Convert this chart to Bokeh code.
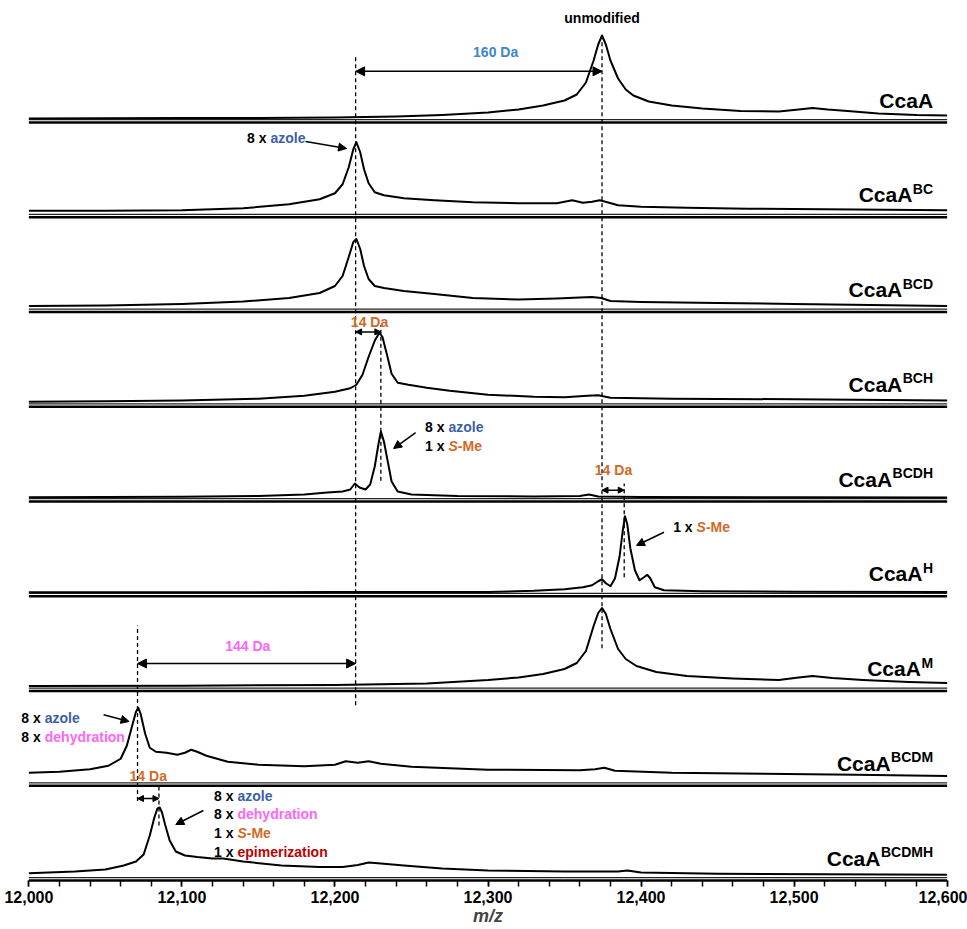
from bokeh.plotting import figure
from bokeh.models import (Range1d, Arrow, NormalHead, Label,
                          SingleIntervalTicker, NumeralTickFormatter)
from bokeh.embed import file_html
from bokeh.resources import INLINE

# ---------------- data ----------------
names = ["CcaA"] * 9
sups = ["", "BC", "BCD", "BCH", "BCDH", "H", "M", "BCDM", "BCDMH"]

mz_A = [12000, 12050, 12100, 12150, 12200, 12240, 12270, 12300, 12320, 12336, 12350, 12358, 12364,
        12369, 12372, 12374.5, 12377, 12380, 12385, 12390, 12395, 12405, 12420, 12440, 12465, 12490,
        12503, 12512, 12522, 12535, 12555, 12580, 12600]
int_A = [4, 4.2, 4.5, 4.5, 5, 6, 7.5, 10, 13, 17, 22, 28, 40, 62, 78, 87, 78, 62, 44, 33, 27, 21, 17,
         14, 11.5, 11, 13, 14.5, 13, 11.5, 9, 7.5, 7]

mz_BC = [12000, 12050, 12100, 12140, 12170, 12190, 12200, 12205, 12209, 12212, 12214, 12216.5, 12219,
         12222, 12226, 12232, 12245, 12265, 12290, 12320, 12345, 12355, 12362, 12368, 12373, 12378,
         12385, 12400, 12430, 12470, 12520, 12560, 12600]
int_BC = [6.5, 6.5, 7, 9, 13, 18, 24, 33, 50, 68, 75, 65, 48, 34, 25, 22, 19, 17, 15, 14, 14, 17,
          14.5, 15.5, 17, 15, 12, 10.5, 9.5, 8.5, 8, 7.5, 7]

mz_BCD = [12000, 12050, 12100, 12140, 12170, 12190, 12200, 12205, 12209, 12212, 12214, 12216.5, 12219,
          12222, 12226, 12232, 12245, 12265, 12290, 12320, 12345, 12360, 12368, 12374, 12380, 12400,
          12450, 12500, 12550, 12600]
int_BCD = [6, 6.5, 8, 10.5, 14, 19, 26, 36, 55, 70, 73, 63, 46, 33, 26, 24, 21, 18, 14, 12.5, 13.5,
           14.5, 15, 14, 11, 10, 9, 8, 7, 6]

mz_BCH = [12000, 12050, 12100, 12150, 12180, 12200, 12210, 12214, 12218, 12222, 12226, 12229, 12231,
          12234, 12237, 12241, 12248, 12260, 12275, 12300, 12330, 12350, 12365, 12372, 12380, 12420,
          12500, 12600]
int_BCH = [5, 5.5, 6.3, 8, 11, 15, 18.5, 22, 32, 50, 66, 74, 70, 52, 33, 24, 22, 19, 16, 12, 10, 9.5,
           11, 11.5, 9, 8, 7.5, 6.3]

mz_BCDH = [12000, 12050, 12100, 12150, 12180, 12195, 12205, 12210, 12213, 12216, 12220, 12223, 12226,
           12228.5, 12230, 12232, 12234.5, 12237, 12241, 12250, 12280, 12330, 12360, 12366, 12372,
           12400, 12500, 12600]
int_BCDH = [4.2, 4.5, 4.7, 5.5, 7, 9, 10, 12, 18, 14, 12, 17, 35, 58, 70, 60, 40, 20, 10, 7, 5.5, 5,
            5.5, 7, 5, 4.5, 4.3, 4]

mz_H = [12000, 12100, 12200, 12300, 12330, 12350, 12362, 12368, 12372, 12374.5, 12377, 12380, 12383,
        12386, 12388, 12389.5, 12391, 12393, 12396, 12399, 12402, 12404, 12406, 12409, 12415, 12440,
        12500, 12600]
int_H = [4, 4, 4.2, 4.3, 5.5, 7, 9, 11, 15, 17, 13, 10, 18, 40, 65, 80, 72, 48, 26, 16, 19, 21.5, 18,
         9, 6, 5, 4.5, 4.3]

mz_M = [12000, 12100, 12200, 12260, 12300, 12320, 12336, 12350, 12358, 12364, 12369, 12372, 12374.5,
        12377, 12380, 12385, 12390, 12397, 12410, 12430, 12460, 12490, 12503, 12512, 12525, 12545,
        12575, 12600]
int_M = [5, 5.3, 6, 7.5, 11, 13.5, 17, 22, 28, 40, 65, 78, 83, 77, 62, 42, 32, 25, 19, 15, 12.5, 11,
         13.5, 15, 13, 11, 9, 8]

mz_BCDM = [12000, 12020, 12040, 12052, 12060, 12064, 12067.5, 12070, 12071.5, 12073, 12076, 12079,
           12083, 12090, 12097, 12102, 12106, 12110, 12116, 12130, 12150, 12180, 12200, 12207, 12215,
           12222, 12230, 12250, 12300, 12360, 12370, 12376, 12383, 12420, 12480, 12540, 12600]
int_BCDM = [13, 14, 16.5, 20, 27, 40, 60, 74, 78, 72, 52, 38, 34, 33, 31, 33, 36, 34, 30, 24, 21,
            19.5, 21, 24.5, 23, 24.5, 22, 19, 16, 15.5, 16.5, 18, 15, 13, 12, 11, 9.7]

mz_BCDMH = [12000, 12030, 12050, 12062, 12070, 12075, 12079, 12082, 12084, 12085.5, 12087, 12089,
            12092, 12096, 12102, 12110, 12120, 12127, 12140, 12165, 12190, 12205, 12215, 12222, 12230,
            12245, 12270, 12300, 12350, 12385, 12391, 12400, 12450, 12520, 12600]
int_BCDMH = [7.3, 9, 11, 15, 19, 26, 45, 63, 72, 73, 68, 56, 40, 29, 25, 23.5, 22, 22, 19, 15, 13.5,
             13.5, 15.5, 18, 17, 15, 12, 10, 9, 9, 10, 8, 6.7, 6.2, 5.7]

traces_mz = [mz_A, mz_BC, mz_BCD, mz_BCH, mz_BCDH, mz_H, mz_M, mz_BCDM, mz_BCDMH]
traces_int = [int_A, int_BC, int_BCD, int_BCH, int_BCDH, int_H, int_M, int_BCDM, int_BCDMH]

# reference peak positions (m/z) for dashed guide lines
guide_mz = [12213.5, 12374.5, 12230, 12389, 12071, 12085]
guide_y0 = [1.85, 2.45, 4.22, 3.20, 0.84, 0.58]
guide_y1 = [8.69, 8.91, 5.86, 4.19, 2.69, 1.02]

# mass differences (double arrows): from, to, label
diff_from = [12213.5, 12213.5, 12374.5, 12071, 12071]
diff_to = [12374.5, 12230, 12389, 12213.5, 12085]
diff_text = ["160 Da", "14 Da", "14 Da", "144 Da", "14 Da"]

MZ_MIN, MZ_MAX = 12000, 12600

# ---------------- style ----------------
FONT = "Liberation Sans"
AZOLE = "#3D5EA6"
BLUE160 = "#3D86C8"
SME = "#D06A27"
DEHYD = "#FF66F4"
EPIM = "#C00000"
PANEL_AU = 94.75      # intensity units per panel height
N = len(names)

p = figure(width=967, height=929, x_range=Range1d(11988, 12612), y_range=Range1d(-0.0211, 9.2876),
           output_backend="svg", toolbar_location=None, y_axis_location=None,
           min_border_left=10, min_border_right=2, min_border_top=0, min_border_bottom=47)
p.xgrid.visible = False
p.ygrid.visible = False
p.outline_line_color = None
p.background_fill_color = "white"

ax = p.xaxis[0]
ax.ticker = SingleIntervalTicker(interval=100, num_minor_ticks=5)
ax.formatter = NumeralTickFormatter(format="0,0")
ax.axis_line_color = None
ax.major_tick_in = 2
ax.major_tick_out = 4
ax.minor_tick_in = 2
ax.minor_tick_out = 4
ax.major_tick_line_width = 1.5
ax.minor_tick_line_width = 1.5
ax.major_label_text_font = FONT
ax.major_label_text_font_style = "bold"
ax.major_label_text_font_size = "16px"
ax.major_label_text_color = "black"
ax.major_label_standoff = 4
ax.axis_label = "m/z"
ax.axis_label_text_font = FONT
ax.axis_label_text_font_style = "bold italic"
ax.axis_label_text_font_size = "18px"
ax.axis_label_standoff = 0

# separators (double lines) spanning the m/z range
sep_lo = list(range(N))
sep_hi = [j + 0.03 for j in range(N)]
p.segment(x0=[MZ_MIN] * N, x1=[MZ_MAX] * N, y0=sep_lo, y1=sep_lo, line_color="black", line_width=2.5)
p.segment(x0=[MZ_MIN] * N, x1=[MZ_MAX] * N, y0=sep_hi, y1=sep_hi, line_color="#222222", line_width=1.3)

# traces
for k in range(N):
    j = N - 1 - k
    ys = [j + v / PANEL_AU for v in traces_int[k]]
    p.line(traces_mz[k], ys, line_color="black", line_width=2.0, line_join="round")

# dashed guides
p.segment(x0=guide_mz, y0=guide_y0, x1=guide_mz, y1=guide_y1, line_color="black",
          line_width=1.3, line_dash="4 3")

# panel labels
CW = {"B": 0.722, "C": 0.722, "D": 0.722, "H": 0.722, "M": 0.833}
X_RIGHT = 12590.8
for k in range(N):
    j = N - 1 - k
    sw = sum(CW[c] for c in sups[k]) * 14 + (0.5 if sups[k] else 0)
    p.add_layout(Label(x=X_RIGHT, y=j + 0.235, x_offset=-sw, text=names[k], text_align="right",
                       text_baseline="alphabetic", text_font=FONT, text_font_style="bold",
                       text_font_size="21px", text_color="black"))
    if sups[k]:
        p.add_layout(Label(x=X_RIGHT, y=j + 0.235, y_offset=6, text=sups[k], text_align="right",
                           text_baseline="alphabetic", text_font=FONT, text_font_style="bold",
                           text_font_size="14px", text_color="black"))

# double arrows with labels
diff_y = [8.54, 5.79, 4.12, 2.29, 0.865]
diff_label_x = [12305, 12222.6, 12382, 12143, 12078]
diff_label_y = [8.74, 5.89, 4.33, 2.47, 1.10]
diff_colors = [BLUE160, SME, SME, DEHYD, SME]
for i in range(len(diff_from)):
    hs = 9 if abs(diff_to[i] - diff_from[i]) > 50 else 6
    p.add_layout(Arrow(x_start=diff_from[i], y_start=diff_y[i], x_end=diff_to[i], y_end=diff_y[i],
                       start=NormalHead(size=hs, fill_color="black", line_color="black"),
                       end=NormalHead(size=hs, fill_color="black", line_color="black"),
                       line_width=1.5, line_color="black"))
    p.add_layout(Label(x=diff_label_x[i], y=diff_label_y[i], text=diff_text[i], text_align="center",
                       text_baseline="middle", text_font=FONT, text_font_style="bold",
                       text_font_size="14px", text_color=diff_colors[i]))

p.add_layout(Label(x=12374.5, y=9.10, text="unmodified", text_align="center", text_baseline="middle",
                   text_font=FONT, text_font_style="bold", text_font_size="14px", text_color="black"))

# modification annotations
def mod_line(x, y, count, word, color, italic_s=False):
    p.add_layout(Label(x=x, y=y, x_offset=-4, text=count + " x", text_align="right",
                       text_baseline="middle", text_font=FONT, text_font_style="bold",
                       text_font_size="14px", text_color="black"))
    if italic_s:
        p.add_layout(Label(x=x, y=y, text="S", text_align="left", text_baseline="middle",
                           text_font=FONT, text_font_style="bold italic", text_font_size="14px",
                           text_color=color))
        p.add_layout(Label(x=x, y=y, x_offset=9.3, text="-Me", text_align="left",
                           text_baseline="middle", text_font=FONT, text_font_style="bold",
                           text_font_size="14px", text_color=color))
    else:
        p.add_layout(Label(x=x, y=y, text=word, text_align="left", text_baseline="middle",
                           text_font=FONT, text_font_style="bold", text_font_size="14px",
                           text_color=color))

def pointer(x0, y0, x1, y1):
    p.add_layout(Arrow(x_start=x0, y_start=y0, x_end=x1, y_end=y1,
                       end=NormalHead(size=8, fill_color="black", line_color="black"),
                       line_width=1.5, line_color="black"))

# CcaA-BC
mod_line(12157.9, 7.84, "8", "azole", AZOLE)
pointer(12180.8, 7.80, 12207.6, 7.726)
# CcaA-BCDH
mod_line(12274.2, 4.79, "8", "azole", AZOLE)
mod_line(12274.2, 4.59, "1", "S-Me", SME, italic_s=True)
pointer(12252.7, 4.728, 12238.3, 4.559)
# CcaA-H
mod_line(12436.3, 3.73, "1", "S-Me", SME, italic_s=True)
pointer(12415, 3.676, 12397, 3.536)
# CcaA-BCDM
mod_line(12010.4, 1.717, "8", "azole", AZOLE)
mod_line(12010.4, 1.512, "8", "dehydration", DEHYD)
pointer(12048.8, 1.749, 12065.5, 1.678)
# CcaA-BCDMH
mod_line(12136.3, 0.897, "8", "azole", AZOLE)
mod_line(12136.3, 0.704, "8", "dehydration", DEHYD)
mod_line(12136.3, 0.499, "1", "S-Me", SME, italic_s=True)
mod_line(12136.3, 0.299, "1", "epimerization", EPIM)
pointer(12114, 0.739, 12096, 0.591)

open("out.html", "w").write(file_html(p, INLINE))
